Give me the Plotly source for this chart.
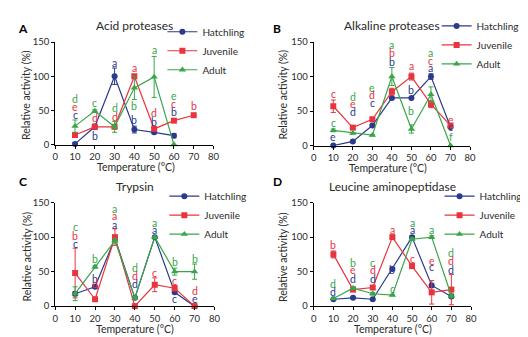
import plotly.graph_objects as go

# ---------------- data ----------------
temps = [10, 20, 30, 40, 50, 60, 70]
series_names = ["Hatchling", "Juvenile", "Adult"]

titles = ["Acid proteases", "Alkaline proteases", "Trypsin", "Leucine aminopeptidase"]
panel_letters = ["A", "B", "C", "D"]
x_title = "Temperature (°C)"
y_title = "Relative activity (%)"

# Acid proteases
hatch_A = [1, 26, 100, 22, 18, 13, None]
hatch_A_err = [2, 4, 12, 5, 2, 3, 0]
juv_A = [14, 26, 26, 100, 23, 35, 43]
juv_A_err = [3, 2, 2, 2, 2, 1, 1]
adult_A = [27, 49, 26, 83, 99, 0, None]
adult_A_err = [9, 2, 8, 17, 30, 0, 0]

# Alkaline proteases
hatch_B = [0, 6, 29, 69, 69, 100, 27]
hatch_B_err = [1, 1, 2, 1, 1, 4, 2]
juv_B = [57, 26, 38, 78, 100, 60, 29]
juv_B_err = [9, 2, 3, 5, 5, 5, 2]
adult_B = [22, 18, 15, 100, 24, 74, 0]
adult_B_err = [2, 1, 1, 13, 6, 11, 0]

# Trypsin
hatch_C = [18, 28, 98, 12, 100, 20, 0]
hatch_C_err = [3, 2, 3, 2, 1, 2, 0]
juv_C = [48, 10, 100, 0, 31, 26, 0]
juv_C_err = [36, 2, 12, 0, 10, 4, 0]
adult_C = [18, 57, 95, 12, 100, 50, 50]
adult_C_err = [10, 2, 3, 2, 1, 5, 11]

# Leucine aminopeptidase
hatch_D = [10, 12, 10, 54, 100, 30, 14]
hatch_D_err = [1, 1, 1, 2, 2, 3, 3]
juv_D = [75, 24, 27, 100, 58, 20, 24]
juv_D_err = [5, 3, 3, 2, 3, 17, 22]
adult_D = [11, 26, 18, 16, 97, 100, 15]
adult_D_err = [1, 2, 2, 1, 2, 2, 3]

# significance letters: (temperature, label height in data units, letter, series index)
letters_A = [(10, 67, "d", 2), (10, 55, "e", 1), (10, 44, "c", 0),
             (20, 61, "c", 2), (20, 39, "d", 1), (20, 12, "b", 0),
             (30, 119, "a", 0), (30, 53, "d", 2), (30, 41, "d", 1),
             (40, 112, "a", 1), (40, 57, "b", 2), (40, 36, "b", 0),
             (50, 138, "a", 2), (50, 46, "d", 1), (50, 33, "b", 0),
             (60, 71, "e", 2), (60, 59, "c", 1), (60, 47, "b", 0),
             (70, 56, "b", 1)]
letters_B = [(10, 75, "c", 1), (10, 33, "c", 2), (10, 12, "e", 0),
             (20, 71, "d", 2), (20, 60, "e", 1), (20, 49, "d", 0),
             (30, 84, "e", 2), (30, 73, "d", 1), (30, 62, "c", 0),
             (40, 146, "a", 2), (40, 134, "b", 1), (40, 121, "b", 0),
             (50, 115, "a", 1), (50, 81, "b", 0), (50, 50, "b", 2),
             (60, 134, "a", 2), (60, 123, "c", 1), (60, 112, "a", 0),
             (70, 37, "e", 1), (70, 27, "c", 0), (70, 13, "f", 2)]
letters_C = [(10, 114, "c", 2), (10, 101, "b", 1), (10, 90, "c", 0),
             (20, 68, "b", 2), (20, 40, "b", 0), (20, 32, "d", 1),
             (30, 141, "a", 2), (30, 130, "a", 1), (30, 118, "a", 0),
             (40, 55, "d", 2), (40, 43, "d", 1), (40, 32, "d", 0),
             (50, 120, "a", 2), (50, 110, "a", 0), (50, 48, "c", 1),
             (60, 64, "b", 2), (60, 36, "c", 1), (60, 11, "c", 0),
             (70, 69, "b", 2), (70, 22, "d", 1), (70, 11, "e", 0)]
letters_D = [(10, 89, "b", 1), (10, 32, "d", 2), (10, 21, "d", 0),
             (20, 63, "b", 2), (20, 52, "e", 1), (20, 40, "d", 0),
             (30, 63, "c", 2), (30, 52, "d", 1), (30, 39, "d", 0),
             (40, 111, "a", 1), (40, 52, "b", 0), (40, 25, "c", 2),
             (50, 121, "a", 2), (50, 110, "a", 0), (50, 69, "c", 1),
             (60, 110, "a", 2), (60, 66, "e", 1), (60, 56, "c", 0),
             (70, 77, "d", 2), (70, 65, "d", 1), (70, 53, "d", 0)]

x_ticks = [0, 10, 20, 30, 40, 50, 60, 70, 80]
y_ticks = [0, 50, 100, 150]

# ---------------- style ----------------
W, H = 528, 337
colors = ["#2b3a8c", "#e8343f", "#3aa64a"]
symbols = ["circle", "square", "triangle-up"]
FONT = "Lato"
TXT = "#2a2a2a"

panels = [
    ([hatch_A, juv_A, adult_A], [hatch_A_err, juv_A_err, adult_A_err], letters_A),
    ([hatch_B, juv_B, adult_B], [hatch_B_err, juv_B_err, adult_B_err], letters_B),
    ([hatch_C, juv_C, adult_C], [hatch_C_err, juv_C_err, adult_C_err], letters_C),
    ([hatch_D, juv_D, adult_D], [hatch_D_err, juv_D_err, adult_D_err], letters_D),
]

# plot-area pixel boxes (left, right, top, bottom)
boxes = [(45, 206, 29, 135), (308, 467, 29, 136), (45, 207, 195, 302), (308, 468, 195, 302)]
legend_pos = [(154, 38), (433, 32), (156, 208), (436, 208)]
label_pos = [(12, 15), (271, 15), (12, 173), (271, 173)]
xtitle_pos = [(127, 158), (384, 159), (126, 326), (389, 326)]
ytitle_pos = [(16, 84), (277, 83), (16, 251), (277, 251)]

fig = go.Figure()
annotations = []
layout = {}
for i, ((vals, errs, letters), box) in enumerate(zip(panels, boxes)):
    k = "" if i == 0 else str(i + 1)
    xa, ya = "x" + k, "y" + k
    leg = "legend" + k
    for s in range(3):
        fig.add_trace(go.Scatter(
            x=temps, y=vals[s], name=series_names[s], xaxis=xa, yaxis=ya,
            mode="lines+markers", legend=leg, cliponaxis=False,
            line=dict(color=colors[s], width=1.2),
            marker=dict(symbol=symbols[s], size=6 if s != 2 else 6.5, color=colors[s]),
            error_y=dict(type="data", array=errs[s], color=colors[s], thickness=1, width=2.5),
        ))
    l, r, t, b = box
    layout["xaxis" + k] = dict(
        domain=[l / W, r / W], anchor=ya, range=[0, 80], tickvals=x_ticks,
        showline=True, linecolor="black", linewidth=1, ticks="outside", ticklen=3,
        tickcolor="black", showgrid=False, zeroline=False,
        tickfont=dict(size=9.5, color=TXT),
    )
    layout["yaxis" + k] = dict(
        domain=[1 - b / H, 1 - t / H], anchor=xa, range=[0, 150], tickvals=y_ticks,
        showline=True, linecolor="black", linewidth=1, ticks="outside", ticklen=3,
        tickcolor="black", showgrid=False, zeroline=False,
        tickfont=dict(size=9.5, color=TXT),
    )
    lx, ly = legend_pos[i]
    layout[leg] = dict(
        x=lx / W, y=1 - ly / H, xanchor="left", yanchor="middle", xref="paper", yref="paper",
        bgcolor="rgba(0,0,0,0)", font=dict(size=10, color=TXT, family=FONT),
        itemwidth=30, tracegroupgap=0,
    )
    for (tx, ty, txt, s) in letters:
        annotations.append(dict(
            x=tx, y=ty, xref=xa, yref=ya, text=txt, showarrow=False,
            font=dict(size=10.5, color=colors[s], family=FONT),
            xanchor="center", yanchor="middle",
        ))
    annotations.append(dict(
        x=(l + r) / 2 / W, y=1 - (t - 17) / H, xref="paper", yref="paper",
        text=titles[i], showarrow=False, font=dict(size=12, color=TXT, family=FONT),
        xanchor="center", yanchor="middle",
    ))
    px, py = label_pos[i]
    annotations.append(dict(
        x=px / W, y=1 - py / H, xref="paper", yref="paper",
        text="<b>" + panel_letters[i] + "</b>", showarrow=False,
        font=dict(size=12, color="black", family=FONT), xanchor="center", yanchor="middle",
    ))
    qx, qy = xtitle_pos[i]
    annotations.append(dict(
        x=qx / W, y=1 - qy / H, xref="paper", yref="paper", text=x_title,
        showarrow=False, font=dict(size=10.5, color=TXT, family=FONT),
        xanchor="center", yanchor="middle",
    ))
    qx, qy = ytitle_pos[i]
    annotations.append(dict(
        x=qx / W, y=1 - qy / H, xref="paper", yref="paper", text=y_title,
        showarrow=False, textangle=-90, font=dict(size=10.5, color=TXT, family=FONT),
        xanchor="center", yanchor="middle",
    ))

fig.update_layout(
    width=W, height=H, margin=dict(l=0, r=0, t=0, b=0),
    paper_bgcolor="white", plot_bgcolor="white",
    font=dict(family=FONT, color=TXT),
    annotations=annotations, **layout,
)
fig.write_html("out.html")
